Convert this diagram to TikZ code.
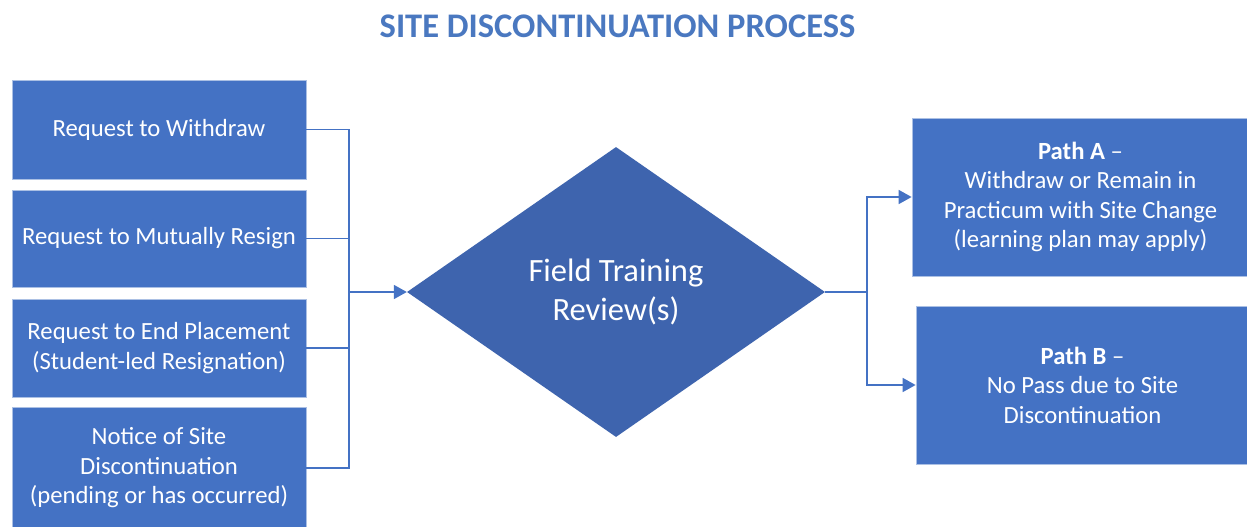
\documentclass[tikz,border=0pt]{standalone}
\usepackage{fontspec}
\setmainfont{Carlito}
\usetikzlibrary{shapes.geometric,arrows.meta}
\definecolor{boxblue}{HTML}{4472C4}
\definecolor{diablue}{HTML}{3E64AE}
\definecolor{titleblue}{HTML}{4A78C0}
\tikzset{
  box/.style={rectangle, fill=boxblue, draw=boxblue!45!white, line width=0.8pt, text=white, align=center, inner sep=0pt, font=\fontsize{24.7}{29.5}\selectfont},
  conn/.style={draw=boxblue, line width=1.8pt},
  arr/.style={conn, -{Triangle[length=13pt,width=14pt]}},
}
\begin{document}
\begin{tikzpicture}[x=1pt,y=-1pt]
\useasboundingbox[fill=white] (0,0) rectangle (1247,527);
\node[text=titleblue, font=\fontsize{34.5}{40}\selectfont\bfseries] (title) at (617.5,26) {SITE DISCONTINUATION PROCESS};
\node[box, minimum width=294pt, minimum height=99pt] (b1) at (159,129.5) {Request to Withdraw};
\node[box, minimum width=294pt, minimum height=97pt] (b2) at (159,238.5) {Request to Mutually Resign};
\node[box, minimum width=294pt, minimum height=98pt] (b3) at (159,348) {Request to End Placement\\(Student-led Resignation)};
\node[box, minimum width=294pt, minimum height=122pt] (b4) at (159,468) {Notice of Site\\Discontinuation\\(pending or has occurred)};
\node[diamond, fill=diablue, minimum width=418pt, minimum height=290pt, inner sep=0pt, text=white, align=center, font=\fontsize{32.5}{39}\selectfont] (dia) at (616,292) {Field Training\\Review(s)};
\node[box, minimum width=337pt, minimum height=158pt] (pa) at (1080.5,197) {\textbf{Path A} –\\Withdraw or Remain in\\Practicum with Site Change\\(learning plan may apply)};
\node[box, minimum width=333pt, minimum height=158pt] (pb) at (1082.5,385) {\textbf{Path B} –\\No Pass due to Site\\Discontinuation};
\coordinate (jl) at (349,292);
\coordinate (jr) at (867,292);
\draw[conn] (b1.east) -| (jl);
\draw[conn] (b2.east) -| (jl);
\draw[conn] (b3.east) -| (jl);
\draw[conn] (b4.east) -| (jl);
\draw[arr] (jl) -- (dia.west);
\draw[conn] (dia.east) -- (jr);
\draw[arr] (jr) |- (pa.west);
\draw[arr] (jr) |- (pb.west);
\end{tikzpicture}
\end{document}
